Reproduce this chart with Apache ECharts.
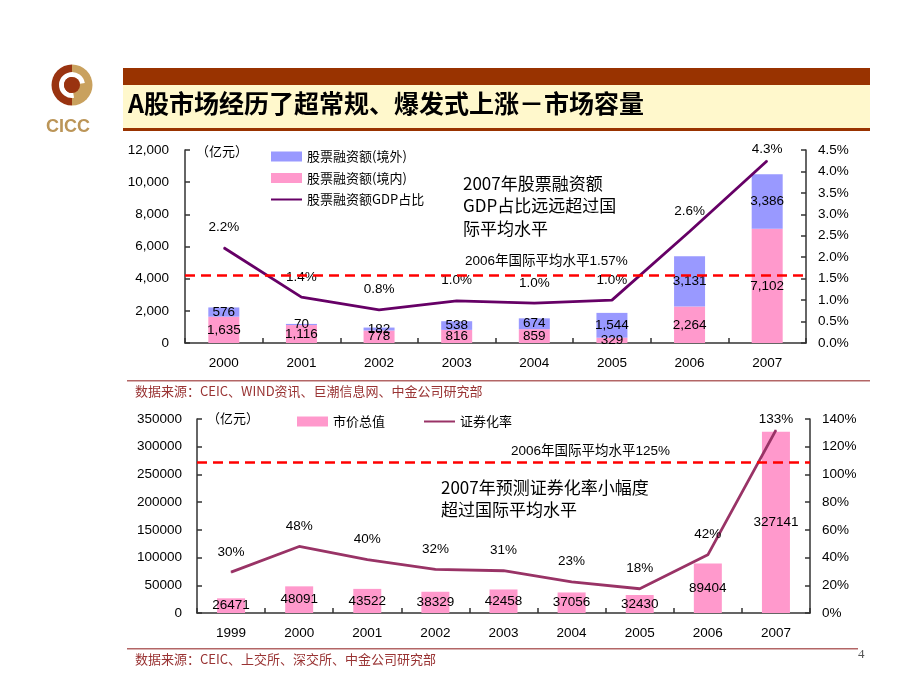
<!DOCTYPE html>
<html>
<head>
<meta charset="utf-8">
<script src="https://cdn.jsdelivr.net/npm/echarts@6/dist/echarts.min.js"></script>
<style>
html,body{margin:0;padding:0;background:#fff;}
#c{width:920px;height:690px;}
</style>
</head>
<body>
<div id="c"></div>
<script>
// ---------- DATA ----------
const topYears = ['2000','2001','2002','2003','2004','2005','2006','2007'];
const domestic = [1635,1116,778,816,859,329,2264,7102];
const overseas = [576,70,182,538,674,1544,3131,3386];
const gdpShare = [2.22,1.07,0.77,0.98,0.93,1.0,2.6,4.25];
const gdpShareLabels = ['2.2%','1.4%','0.8%','1.0%','1.0%','1.0%','2.6%','4.3%'];
const intlAvgTop = 1.57;

const botYears = ['1999','2000','2001','2002','2003','2004','2005','2006','2007'];
const marketCap = [26471,48091,43522,38329,42458,37056,32430,89404,327141];
const secRate = [29.5,48,38.5,31.5,30.5,22.5,17.5,42,132];
const secRateLabels = ['30%','48%','40%','32%','31%','23%','18%','42%','133%'];
const intlAvgBottom = 109;

const topLegend = ['股票融资额(境外)','股票融资额(境内)','股票融资额GDP占比'];
const botLegend = ['市价总值','证券化率'];

// ---------- STYLE ----------
const NUM = 'Liberation Sans, Arial, Noto Sans CJK SC, sans-serif';
const CJK = 'Noto Sans CJK SC, sans-serif';
const PINK = '#ff99cc', BLUE = '#9999ff', PURPLE = '#660066', MAROON = '#993366', RED = '#ff0000';
const axisLine = {show:true, lineStyle:{color:'#333', width:1.5}};
const axisTick = {show:true, inside:true, length:5, lineStyle:{color:'#333', width:1.5}};
const lblStyle = {color:'#000', fontSize:13.5, fontFamily:NUM};

const chart = echarts.init(document.getElementById('c'));
const fmtComma = v => Number(v).toLocaleString('en-US');
const lastDist = (arr) => arr.map((v,i)=> i===arr.length-1 ? {value:v, label:{distance:4}} : v);

const option = {
  animation:false,
  backgroundColor:'#fff',
  textStyle:{fontFamily:NUM},
  grid:[
    {left:185, right:114, top:150, height:193},
    {left:197, right:110, top:419, height:194}
  ],
  legend:[
    {data:[{name:topLegend[0], icon:'rect'},{name:topLegend[1], icon:'rect'},{name:topLegend[2], itemStyle:{opacity:0}}],
     orient:'vertical', left:270, top:150, padding:0, itemWidth:31, itemHeight:10, itemGap:8.5,
     textStyle:{fontFamily:CJK, fontSize:13, color:'#000'}, selectedMode:false},
    {data:[{name:botLegend[0], icon:'rect'},{name:botLegend[1], itemStyle:{opacity:0}}],
     orient:'horizontal', left:297, top:415, padding:0, itemWidth:31, itemHeight:10, itemGap:38,
     textStyle:{fontFamily:CJK, fontSize:13, color:'#000'}, selectedMode:false}
  ],
  xAxis:[
    {type:'category', gridIndex:0, data:topYears, axisLine, axisTick,
     axisLabel:{...lblStyle, margin:14}},
    {type:'category', gridIndex:1, data:botYears, axisLine, axisTick,
     axisLabel:{...lblStyle, margin:14}}
  ],
  yAxis:[
    {type:'value', gridIndex:0, min:0, max:12000, interval:2000, axisLine, axisTick, splitLine:{show:false},
     axisLabel:{...lblStyle, margin:16, formatter:fmtComma}},
    {type:'value', gridIndex:0, position:'right', min:0, max:4.5, interval:0.5, axisLine, axisTick, splitLine:{show:false},
     axisLabel:{...lblStyle, margin:12, formatter:v=>v.toFixed(1)+'%'}},
    {type:'value', gridIndex:1, min:0, max:350000, interval:50000, axisLine, axisTick, splitLine:{show:false},
     axisLabel:{...lblStyle, margin:15, formatter:v=>String(v)}},
    {type:'value', gridIndex:1, position:'right', min:0, max:140, interval:20, axisLine, axisTick, splitLine:{show:false},
     axisLabel:{...lblStyle, margin:12, formatter:v=>v+'%'}}
  ],
  series:[
    {name:topLegend[1], type:'bar', stack:'fin', xAxisIndex:0, yAxisIndex:0, data:domestic, barWidth:31,
     itemStyle:{color:PINK}, label:{show:true, position:'inside', ...lblStyle, formatter:p=>fmtComma(p.value)}},
    {name:topLegend[0], type:'bar', stack:'fin', xAxisIndex:0, yAxisIndex:0, data:overseas, barWidth:31,
     itemStyle:{color:BLUE}, label:{show:true, position:'inside', ...lblStyle, formatter:p=>fmtComma(p.value)}},
    {name:topLegend[2], type:'line', xAxisIndex:0, yAxisIndex:1, symbol:'circle', symbolSize:1, showSymbol:true,
     data:lastDist(gdpShare),
     lineStyle:{color:PURPLE, width:2.8}, itemStyle:{color:PURPLE},
     label:{show:true, position:'top', distance:13, ...lblStyle, formatter:p=>gdpShareLabels[p.dataIndex]},
     markLine:{silent:true, symbol:['none','none'], label:{show:false},
       lineStyle:{color:RED, type:[10,6], width:2.5}, data:[{yAxis:intlAvgTop}]}},
    {name:botLegend[0], type:'bar', xAxisIndex:1, yAxisIndex:2, data:marketCap, barWidth:28,
     itemStyle:{color:PINK}, label:{show:true, position:'inside', ...lblStyle, formatter:p=>String(p.value)}},
    {name:botLegend[1], type:'line', xAxisIndex:1, yAxisIndex:3, symbol:'circle', symbolSize:1, showSymbol:true,
     data:lastDist(secRate),
     lineStyle:{color:MAROON, width:2.8}, itemStyle:{color:MAROON},
     label:{show:true, position:'top', distance:13, ...lblStyle, formatter:p=>secRateLabels[p.dataIndex]},
     markLine:{silent:true, symbol:['none','none'], label:{show:false},
       lineStyle:{color:RED, type:[10,6], width:2.5}, data:[{yAxis:intlAvgBottom}]}}
  ],
  graphic:[
    // title bar
    {type:'rect', shape:{x:123, y:68, width:747, height:17}, style:{fill:'#993300'}, z:1},
    {type:'rect', shape:{x:123, y:85, width:747, height:43}, style:{fill:'#fff8cc'}, z:1},
    {type:'rect', shape:{x:123, y:128, width:747, height:3}, style:{fill:'#993300'}, z:1},
    {type:'text', left:128, top:91, style:{text:'A股市场经历了超常规、爆发式上涨－市场容量', font:'bold 25px '+CJK, fill:'#000'}, z:2},
    // logo
    {type:'sector', shape:{cx:72, cy:85, r:20.5, r0:0, startAngle:Math.PI/2, endAngle:Math.PI*1.5}, style:{fill:'#993310'}, z:1},
    {type:'sector', shape:{cx:72, cy:85, r:20.5, r0:0, startAngle:-Math.PI/2, endAngle:Math.PI/2}, style:{fill:'#c9a15e'}, z:1},
    {type:'sector', shape:{cx:72, cy:85, r:13, r0:8, startAngle:Math.PI*0.45, endAngle:Math.PI*1.95}, style:{fill:'#fff'}, z:2},
    {type:'circle', shape:{cx:72, cy:85, r:8}, style:{fill:'#993310'}, z:2},
    {type:'text', left:46, top:118, style:{text:'CICC', font:'bold 18px Liberation Sans, sans-serif', fill:'#bb9558'}, z:2},
    // unit labels
    {type:'text', left:196, top:145, style:{text:'（亿元）', font:'13px '+CJK, fill:'#000'}, z:5},
    {type:'text', left:207, top:412, style:{text:'（亿元）', font:'13px '+CJK, fill:'#000'}, z:5},
    // annotations
    {type:'text', left:463, top:172, style:{text:'2007年股票融资额\nGDP占比远远超过国\n际平均水平', font:'17px '+CJK, lineHeight:22.5, fill:'#000'}, z:5},
    {type:'text', left:465, top:255, style:{text:'2006年国际平均水平1.57%', font:'13.5px '+NUM, fill:'#000'}, z:5},
    {type:'text', left:441, top:477, style:{text:'2007年预测证券化率小幅度\n超过国际平均水平', font:'17px '+CJK, lineHeight:22, fill:'#000'}, z:5},
    {type:'text', left:511, top:445, style:{text:'2006年国际平均水平125%', font:'13.5px '+NUM, fill:'#000'}, z:5},
    // separators and sources
    {type:'rect', shape:{x:127, y:380, width:743, height:1.5}, style:{fill:'#b36666'}, z:1},
    {type:'text', left:135, top:385, style:{text:'数据来源：CEIC、WIND资讯、巨潮信息网、中金公司研究部', font:'13px '+CJK, fill:'#993333'}, z:5},
    {type:'rect', shape:{x:127, y:648, width:731, height:1.5}, style:{fill:'#b36666'}, z:1},
    {type:'text', left:135, top:653, style:{text:'数据来源：CEIC、上交所、深交所、中金公司研究部', font:'13px '+CJK, fill:'#993333'}, z:5},
    {type:'text', left:858, top:648, style:{text:'4', font:'13px Liberation Serif, serif', fill:'#555'}, z:5}
  ]
};
chart.setOption(option);
</script>
</body>
</html>
